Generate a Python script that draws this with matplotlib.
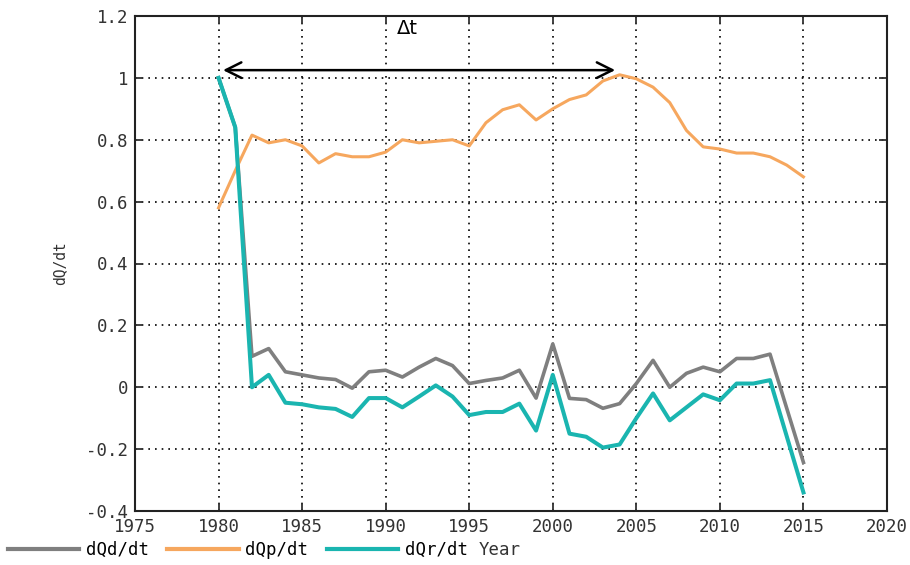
import numpy as np
import matplotlib
matplotlib.use('Agg')
import matplotlib.pyplot as plt

# ---- data ----
years_p = [1980, 1981, 1982, 1983, 1984, 1985, 1986, 1987, 1988, 1989, 1990,
           1991, 1992, 1993, 1994, 1995, 1996, 1997, 1998, 1999, 2000, 2001,
           2002, 2003, 2004, 2005, 2006, 2007, 2008, 2009, 2010, 2011, 2012,
           2013, 2014, 2015]
dQp = [0.58, 0.70, 0.815, 0.79, 0.80, 0.78, 0.725, 0.755, 0.745, 0.745, 0.76,
       0.80, 0.79, 0.795, 0.80, 0.78, 0.855, 0.897, 0.913, 0.864, 0.90, 0.93,
       0.945, 0.99, 1.01, 0.997, 0.97, 0.92, 0.83, 0.777, 0.77, 0.757, 0.757,
       0.745, 0.718, 0.68]

# gray / teal have no separate 2014 point (straight drop 2013 -> 2015)
years_dr = [1980, 1981, 1982, 1983, 1984, 1985, 1986, 1987, 1988, 1989, 1990,
            1991, 1992, 1993, 1994, 1995, 1996, 1997, 1998, 1999, 2000, 2001,
            2002, 2003, 2004, 2005, 2006, 2007, 2008, 2009, 2010, 2011, 2012,
            2013, 2015]
dQd = [1.0, 0.84, 0.10, 0.125, 0.05, 0.04, 0.03, 0.025, -0.003, 0.05, 0.055,
       0.033, 0.065, 0.093, 0.07, 0.012, 0.022, 0.03, 0.055, -0.035, 0.14, -0.036,
       -0.04, -0.068, -0.053, 0.012, 0.087, 0.0, 0.045, 0.065, 0.05, 0.093, 0.093,
       0.107, -0.243]
dQr = [1.0, 0.84, 0.0, 0.04, -0.05, -0.055, -0.065, -0.07, -0.096, -0.035, -0.035,
       -0.065, -0.03, 0.006, -0.03, -0.09, -0.08, -0.08, -0.053, -0.14, 0.04, -0.15,
       -0.16, -0.195, -0.185, -0.10, -0.02, -0.107, -0.065, -0.023, -0.042, 0.012, 0.012,
       0.023, -0.34]

xticks = [1975, 1980, 1985, 1990, 1995, 2000, 2005, 2010, 2015, 2020]
yticks = [-0.4, -0.2, 0, 0.2, 0.4, 0.6, 0.8, 1.0, 1.2]
ytick_labels = ['-0.4', '-0.2', '0', '0.2', '0.4', '0.6', '0.8', '1', '1.2']

# arrow marking the lag between peaks
arrow_start, arrow_end, arrow_level = 1980.1, 2003.9, 1.025

plt.rcParams['font.family'] = 'DejaVu Sans Mono'
plt.rcParams['axes.unicode_minus'] = False
FS = 12.5

fig = plt.figure(figsize=(9.1, 5.65), dpi=100)
ax = fig.add_axes([135/910, 1-511/565, (887-135)/910, (511-16)/565])

c_gray = '#7f7f7f'
c_orange = '#f6a75e'
c_teal = '#1ab5b0'

l1, = ax.plot(years_dr, dQd, color=c_gray, lw=2.6, label='dQd/dt', zorder=3)
l2, = ax.plot(years_p, dQp, color=c_orange, lw=2.2, label='dQp/dt', zorder=3)
l3, = ax.plot(years_dr, dQr, color=c_teal, lw=2.9, label='dQr/dt', zorder=4)

ax.set_xlim(1975, 2020)
ax.set_ylim(-0.4, 1.2)
ax.set_xticks(xticks)
ax.set_yticks(yticks)
ax.set_yticklabels(ytick_labels)

ax.grid(True, color='black', linestyle=(0, (1, 3)), linewidth=1.2)
ax.tick_params(direction='in', length=6, width=1.3, top=True, right=True,
               labelsize=FS, colors='#333333', labelcolor='#333333', pad=5)
for s in ax.spines.values():
    s.set_linewidth(1.5)
    s.set_color('#222222')

ax.set_ylabel('dQ/dt', fontsize=FS - 2, color='#333333')
ax.yaxis.set_label_coords(-68/752, 0.5)

ax.annotate('', xy=(arrow_end, arrow_level), xytext=(arrow_start, arrow_level),
            arrowprops=dict(arrowstyle='<->', color='black', lw=1.8,
                            mutation_scale=28), zorder=5)
ax.text(1991.3, 1.16, '\u0394t', fontsize=14, family='DejaVu Sans',
        ha='center', va='center', color='black')

leg = fig.legend(handles=[l1, l2, l3], loc='center left',
                 bbox_to_anchor=(8/910, 1-550/565), ncol=3, frameon=False,
                 fontsize=FS, handlelength=4.1, handletextpad=0.4,
                 columnspacing=1.05, borderaxespad=0.0, borderpad=0.0)
for h in leg.legend_handles:
    h.set_linewidth(3.0)

# "Year" sits right after the last legend entry, separated by one space
fig.canvas.draw()
bb = leg.get_texts()[-1].get_window_extent()
fig.text((bb.x1 + 0.6 * FS * 100 / 72) / 910, 1-550/565, 'Year', fontsize=FS,
         va='center', ha='left', color='#333333')

fig.savefig('out.png', dpi=100)
